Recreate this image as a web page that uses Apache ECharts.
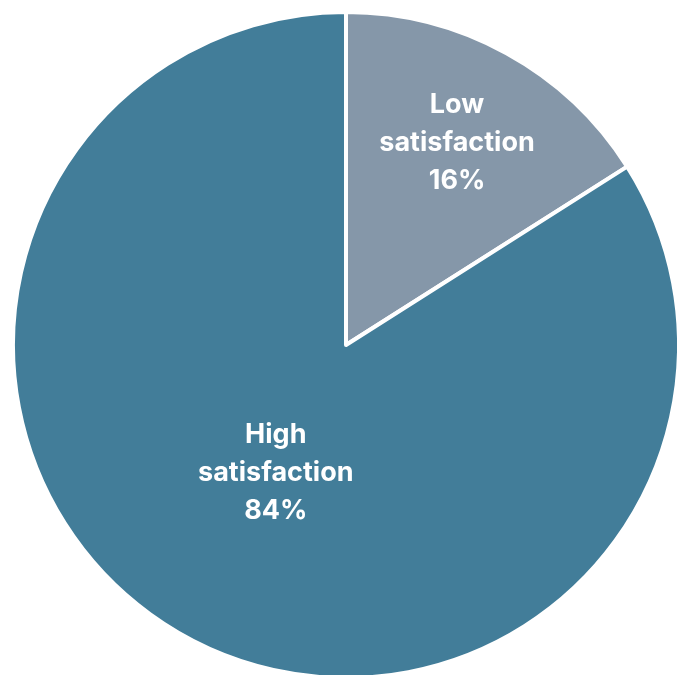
<!DOCTYPE html>
<html>
<head>
<meta charset="utf-8">
<script src="https://cdn.jsdelivr.net/npm/echarts@6/dist/echarts.min.js"></script>
<style>html,body{margin:0;padding:0;background:#fff;}#c{width:677px;height:675px;}</style>
</head>
<body>
<div id="c"></div>
<script>
const categories = ['Low\nsatisfaction', 'High\nsatisfaction'];
const values = [16, 84];
const colors = ['#8597A9', '#427D99'];
const labelRadial = [0.68, 0.43];

const CX = 346, CY = 345, R = 333;
const chart = echarts.init(document.getElementById('c'), null, {renderer: 'canvas'});
chart.setOption({
  animation: false,
  series: [{
    type: 'pie',
    center: [CX, CY],
    radius: [0, R],
    startAngle: 90,
    clockwise: true,
    data: categories.map((n, i) => ({name: n, value: values[i], itemStyle: {color: colors[i]}})),
    itemStyle: {borderColor: '#fff', borderWidth: 4},
    label: {
      position: 'inside',
      formatter: p => p.name + '\n' + p.value + '%',
      color: '#fff',
      fontFamily: 'Inter',
      fontWeight: 'bold',
      fontSize: 27,
      lineHeight: 38,
      align: 'center'
    },
    labelLine: {show: false},
    emphasis: {disabled: true},
    labelLayout: function (p) {
      const r = p.labelRect;
      const lx = r.x + r.width / 2, ly = r.y + r.height / 2;
      const k = labelRadial[p.dataIndex] / 0.5 - 1;
      return {dx: (lx - CX) * k, dy: (ly - CY) * k};
    }
  }]
});
</script>
</body>
</html>
